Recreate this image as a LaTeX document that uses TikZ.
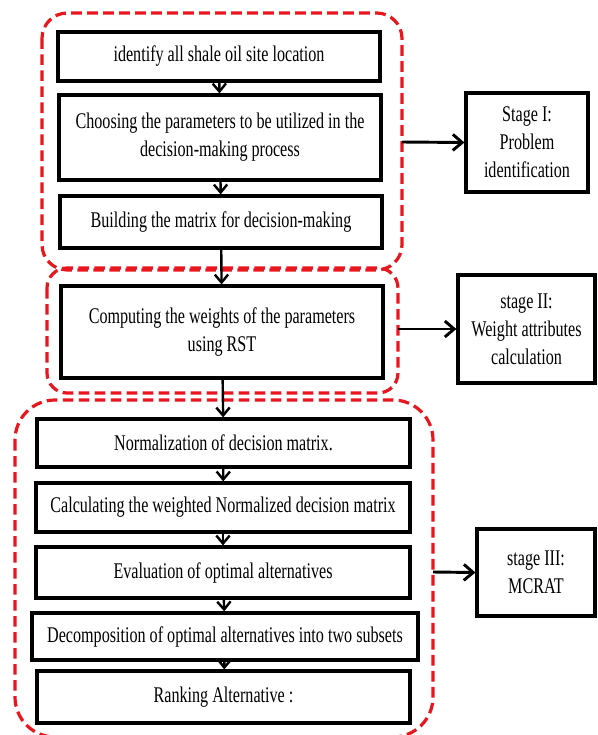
\documentclass[tikz,border=0pt]{standalone}
\usepackage{fontspec}
\setmainfont{Liberation Serif}[FakeStretch=0.72]
\usetikzlibrary{arrows.meta}
\definecolor{fencered}{RGB}{232,22,30}
\tikzset{
    stepbox/.style={draw,line width=2.4pt,fill=white,align=center,inner sep=0pt,
        font=\fontsize{16.8}{21}\selectfont},
    fence/.style={draw=fencered,line width=2.4pt,dash pattern=on 8pt off 4pt},
    flow/.style={line width=1.8pt,-{Straight Barb[length=6pt,width=10pt]}},
    stagearrow/.style={line width=2.2pt,-{Straight Barb[length=7pt,width=12pt]}}
}
\newcommand{\StepBox}[6]{% name,left,top,right,bottom,text (pixel coords)
    \node[stepbox,minimum width={(#4-#2)*0.75pt},minimum height={(#5-#3)*0.75pt}]
        (#1) at ({(#2+#4)/2},{(#3+#5)/2}) {#6};
}
\begin{document}
\begin{tikzpicture}[x=0.75pt,y=-0.75pt]
        \useasboundingbox (0,0) rectangle (597,735);

        % stage fences
        \draw[fence,rounded corners=19pt] (42,13) rectangle (402,270);
        \draw[fence,rounded corners=15pt] (47,268) rectangle (398,393);
        \draw[fence,rounded corners=30pt] (15,400) rectangle (433,737);
        \coordinate (outI) at (402,142);
        \coordinate (outII) at (398,329);
        \coordinate (outIII) at (433,572);

        \StepBox{site}{58}{32}{380}{81}{identify all shale oil site location}
        \StepBox{param}{59}{95}{381}{180}{Choosing the parameters to be utilized in the\\decision-making process}
        \StepBox{matrix}{60}{196}{382}{248}{Building the matrix for decision-making}
        \StepBox{weight}{61}{286}{383}{378}{Computing the weights of the parameters\\using RST}
        \StepBox{norm}{37}{419}{410}{467}{Normalization of decision matrix.}
        \StepBox{wnorm}{36}{483}{410}{532}{Calculating the weighted Normalized decision matrix}
        \StepBox{eval}{36}{547}{410}{598}{Evaluation of optimal alternatives}
        \StepBox{split}{32}{613}{418}{660}{Decomposition of optimal alternatives into two subsets}
        \StepBox{rank}{37}{671}{410}{723}{Ranking Alternative :}

        \StepBox{stageI}{466}{93}{588}{192}{Stage I:\\Problem\\identification}
        \StepBox{stageII}{458}{275}{595}{383}{stage II:\\Weight attributes\\calculation}
        \StepBox{stageIII}{477}{529}{595}{616}{stage III:\\MCRAT}

        \draw[flow] (site) -- (param);
        \draw[flow] (param) -- (matrix);
        \draw[flow] (matrix) -- (weight);
        \draw[flow] (weight) -- (norm);
        \draw[flow] (norm) -- (wnorm);
        \draw[flow] (wnorm) -- (eval);
        \draw[flow] (eval) -- (split);
        \draw[flow] (split) -- (rank);

        \draw[stagearrow] (outI) -- (stageI.west);
        \draw[stagearrow] (outII) -- (stageII.west);
        \draw[stagearrow] (outIII) -- (stageIII.west);
\end{tikzpicture}
\end{document}
